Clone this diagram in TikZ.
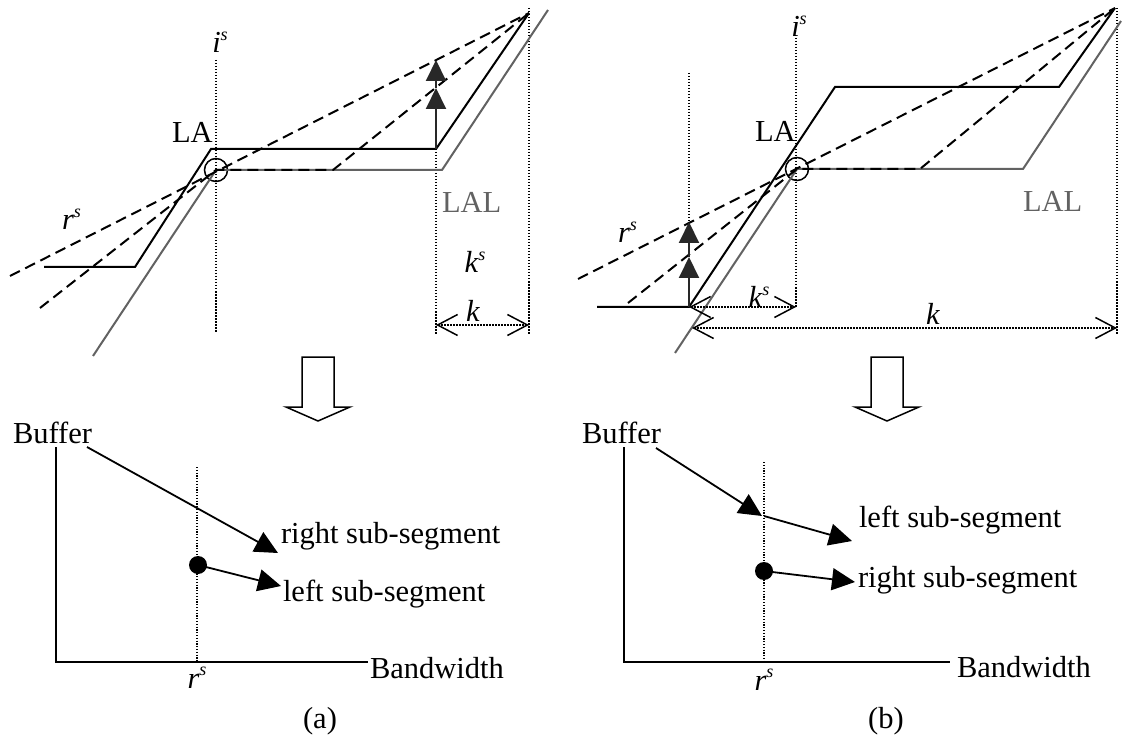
\documentclass[tikz,border=0pt]{standalone}
\usepackage{fontspec}
\setmainfont{Liberation Serif}
\usetikzlibrary{arrows.meta}
\definecolor{lalgray}{RGB}{98,98,98}
\definecolor{tridark}{RGB}{40,40,40}
\newcommand{\supS}{\raisebox{0.4em}{\fontsize{18}{18}\selectfont\textit{s}}}
\begin{document}
\begin{tikzpicture}[x=1pt,y=-1pt,
  txt/.style={inner sep=0pt, outer sep=0pt, font=\fontsize{30.5}{34}\selectfont},
  graytxt/.style={txt, text=lalgray},
  blackline/.style={line width=2pt, line join=miter},
  grayline/.style={line width=2pt, draw=lalgray, line join=miter},
  dashline/.style={line width=2pt, dash pattern=on 11pt off 6pt},
  dotline/.style={line width=1.5pt, dash pattern=on 1.5pt off 1.5pt},
  thindot/.style={line width=1.2pt, dash pattern=on 1.2pt off 1.6pt},
  uptri/.style={-{Triangle[length=21pt,width=20pt]}, line width=2pt, draw=tridark, fill=tridark},
  dimarrow/.style={dotline, {Straight Barb[length=20pt,width=21pt,line width=1.5pt]}-{Straight Barb[length=20pt,width=21pt,line width=1.5pt]}},
  bigtip/.style={-{Triangle[length=23pt,width=22pt]}, line width=1.8pt},
  hollow/.style={line width=1.5pt, line join=miter},
  ring/.style={circle, draw, line width=1.5pt, minimum size=23pt, inner sep=0pt},
  bdot/.style={circle, fill, minimum size=18pt, inner sep=0pt},
]
\useasboundingbox (0,0) rectangle (1122,751);

% ================= panel (a), top =================
\node[ring] (ca) at (216,170) {};
\coordinate (aTop) at (529,13);
% dotted guides
\draw[dotline] (216,60) -- (216,332);
\draw[dotline] (436,149) -- (436,335);
\draw[dotline] (529,8) -- (529,335);
% LAL (gray)
\draw[grayline] (93,356) -- (ca.center) -- (442,170) -- (548,10);
% LA (black)
\draw[blackline] (44,267) -- (135,267) -- (211,149) -- (436,149) -- (aTop);
% dashed lines
\draw[dashline] (10,276) -- (aTop);
\draw[dashline] (40,308) -- (ca.center) -- (333,170) -- (aTop);
% vertical arrows
\coordinate (aA0) at (436,149);
\coordinate (aA1) at (436,88);
\coordinate (aA2) at (436,60);
\draw[uptri] (aA0) -- (aA1);
\draw[uptri] (aA1) -- (aA2);
% dimension k
\draw[dimarrow] (436,325) -- (529,325);
% labels
\node[txt, anchor=base] (ais) at (220,53) {\textit{i}\supS};
\node[txt, anchor=base west] (ala) at (172,143) {LA};
\node[graytxt, anchor=base west] (alal) at (442,213) {LAL};
\node[txt, anchor=base west] (ars) at (62,230) {\textit{r}\supS};
\node[txt, anchor=base] (aks) at (475,273) {\textit{k}\supS};
\node[txt, anchor=base] (ak) at (473,322) {\textit{k}};

% down arrow (a)
\draw[hollow] (302,357) -- (334,357) -- (334,407) -- (350,407) -- (318,421) -- (286,407) -- (302,407) -- cycle;

% ================= panel (a), bottom =================
\draw[blackline] (56,447) -- (56,662) -- (368,662);
\draw[thindot] (197,467) -- (197,662);
\node[txt, anchor=base west] (abuf) at (13,443) {Buffer};
\node[txt, anchor=base west] (abw) at (370,678) {Bandwidth};
\node[txt, anchor=base] (arsb) at (197,688) {\textit{r}\supS};
\node[txt, anchor=base west] (aright) at (281,543) {right sub-segment};
\node[txt, anchor=base west] (aleft) at (283,601) {left sub-segment};
\node[bdot] (adot) at (198,565) {};
\coordinate (aS0) at (87,447);
\coordinate (aS1) at (278,553);
\coordinate (aS2) at (281,586);
\draw[bigtip] (aS0) -- (aS1);
\draw[bigtip] (adot.center) -- (aS2);
\node[txt, anchor=base] (acap) at (320,728) {(a)};

% ================= panel (b), top =================
\node[ring] (cb) at (797,169) {};
\coordinate (bTop) at (1115,8);
% dotted guides
\draw[dotline] (796,38) -- (796,308);
\draw[dotline] (689,73) -- (689,307);
\draw[dotline] (1117,8) -- (1117,335);
% LAL (gray)
\draw[grayline] (675,353) -- (cb.center) -- (1023,169) -- (1121,21);
% LA (black)
\draw[blackline] (597,307) -- (689,307) -- (835,87) -- (1059,87) -- (bTop);
% dashed
\draw[dashline] (578,279) -- (bTop);
\draw[dashline] (628,303) -- (cb.center) -- (920,169) -- (bTop);
% vertical arrows
\coordinate (bA0) at (689,307);
\coordinate (bA1) at (689,257);
\coordinate (bA2) at (689,222);
\draw[uptri] (bA0) -- (bA1);
\draw[uptri] (bA1) -- (bA2);
% dimensions
\draw[dimarrow] (689,307) -- (796,307);
\draw[dimarrow] (692,328) -- (1117,328);
% labels
\node[txt, anchor=base] (bis) at (799,37) {\textit{i}\supS};
\node[txt, anchor=base west] (bla) at (755,142) {LA};
\node[graytxt, anchor=base west] (blal) at (1023,212) {LAL};
\node[txt, anchor=base west] (brs) at (618,243) {\textit{r}\supS};
\node[txt, anchor=base] (bks) at (759,308) {\textit{k}\supS};
\node[txt, anchor=base] (bk) at (933,325) {\textit{k}};

% down arrow (b)
\draw[hollow] (871,357) -- (903,357) -- (903,407) -- (919,407) -- (887,421) -- (855,407) -- (871,407) -- cycle;

% ================= panel (b), bottom =================
\draw[blackline] (624,447) -- (624,662) -- (950,662);
\draw[thindot] (764,462) -- (764,662);
\node[txt, anchor=base west] (bbuf) at (582,443) {Buffer};
\node[txt, anchor=base west] (bbw) at (957,677) {Bandwidth};
\node[txt, anchor=base] (brsb) at (764,690) {\textit{r}\supS};
\node[txt, anchor=base west] (bleft) at (859,527) {left sub-segment};
\node[txt, anchor=base west] (bright) at (858,587) {right sub-segment};
\node[bdot] (bdt) at (764,571) {};
\coordinate (bS0) at (656,448);
\coordinate (bS1) at (762,516);
\coordinate (bS2) at (764,516);
\coordinate (bS3) at (852,541);
\coordinate (bS4) at (855,582);
\draw[bigtip] (bS0) -- (bS1);
\draw[bigtip] (bS2) -- (bS3);
\draw[bigtip] (bdt.center) -- (bS4);
\node[txt, anchor=base] (bcap) at (886,728) {(b)};
\end{tikzpicture}
\end{document}
